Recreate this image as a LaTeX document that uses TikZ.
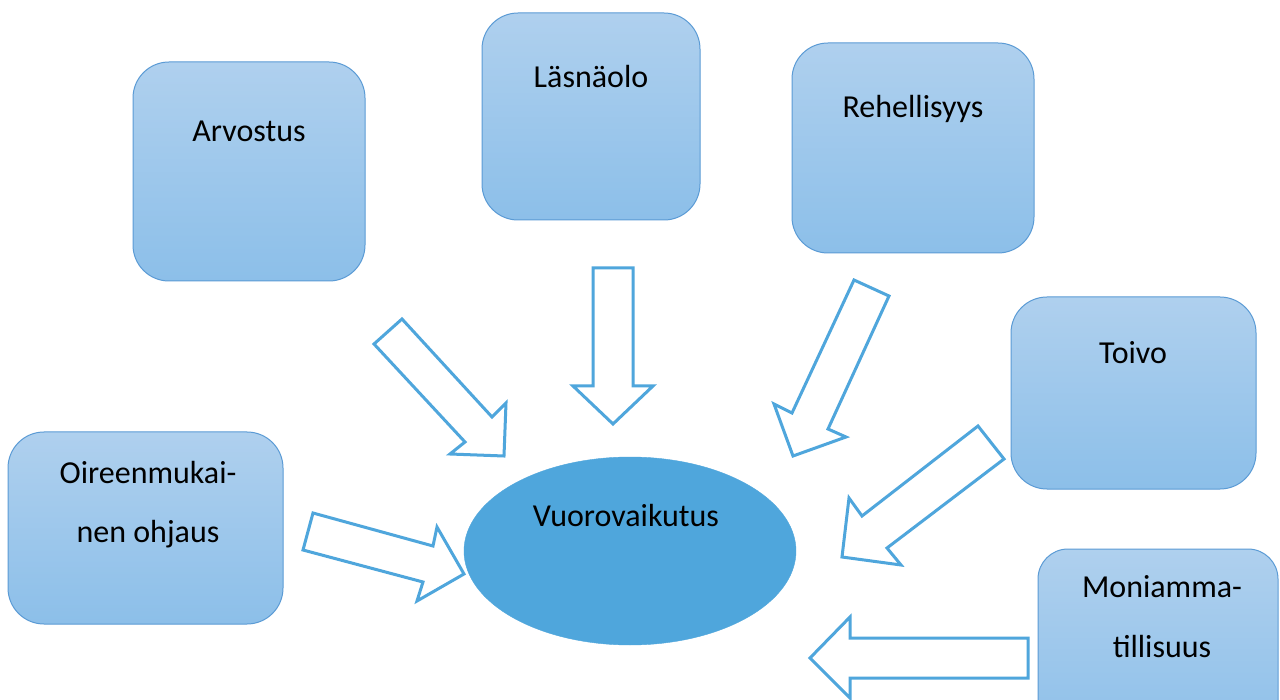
\documentclass[tikz,border=0pt]{standalone}
\usepackage{fontspec}
\setmainfont{Carlito}
\usetikzlibrary{shapes.geometric}
\definecolor{boxtop}{HTML}{AFD0EE}
\definecolor{boxbot}{HTML}{8CBFE9}
\definecolor{boxline}{HTML}{5B9BD5}
\definecolor{arrowline}{HTML}{4FA6DC}
\definecolor{hubfill}{HTML}{4FA6DC}
\tikzset{
  card/.style={draw=boxline, line width=1pt, rounded corners=36pt,
    top color=boxtop, bottom color=boxbot, inner sep=0pt},
  word/.style={anchor=base, inner sep=0pt, font=\fontsize{32}{38}\selectfont},
  blockarrow/.style={draw=arrowline, line width=3pt, fill=white, line join=miter},
  hub/.style={ellipse, fill=hubfill, draw=hubfill, inner sep=0pt}
}
\begin{document}
\begin{tikzpicture}[x=1pt, y=-1pt]
\useasboundingbox (0,0) rectangle (1280,700);
\fill[white] (0,0) rectangle (1280,700);

% rounded cards
\node[card, minimum width=232pt, minimum height=219pt] (arv) at (249,171.5) {};
\node[card, minimum width=218pt, minimum height=207pt] (las) at (591,116.5) {};
\node[card, minimum width=242pt, minimum height=210pt] (reh) at (913,148) {};
\node[card, minimum width=245pt, minimum height=192pt] (toi) at (1133.5,393) {};
\node[card, minimum width=275pt, minimum height=192pt] (oir) at (145.5,528) {};
\node[card, minimum width=240pt, minimum height=200pt, rounded corners=30pt] (mon) at (1158,649) {};

% central ellipse
\node[hub, minimum width=332pt, minimum height=188pt] (vuo) at (630,551) {};

% card labels
\node[word] (tarv) at (249,142) {Arvostus};
\node[word] (tlas) at (591,88) {Läsnäolo};
\node[word] (treh) at (913,118) {Rehellisyys};
\node[word] (ttoi) at (1133,364) {Toivo};
\node[word] (toir1) at (148,483) {Oireenmukai-};
\node[word] (toir2) at (148,542) {nen ohjaus};
\node[word] (tvuo) at (626,526) {Vuorovaikutus};
\node[word] (tmon1) at (1162,597) {Moniamma-};
\node[word] (tmon2) at (1162,657) {tillisuus};

% outlined block arrows pointing at the ellipse
\draw[blockarrow] (374,344) -- (402,319) -- (492,417) -- (506,403) -- (504,456) -- (450,454) -- (465,442) -- cycle;
\draw[blockarrow] (593,268) -- (633,268) -- (633,386) -- (653,386) -- (613,424) -- (573,386) -- (593,386) -- cycle;
\draw[blockarrow] (854,280) -- (889,296) -- (828,429) -- (846,437) -- (793,456) -- (774,404) -- (792,413) -- cycle;
\draw[blockarrow] (978,426) -- (1004,459) -- (887,548) -- (901,565) -- (842,557) -- (849,498) -- (862,516) -- cycle;
\draw[blockarrow] (313,513) -- (303,550) -- (423,582) -- (417,601) -- (464,574) -- (437,527) -- (433,546) -- cycle;
\draw[blockarrow] (1028,638) -- (1028,678) -- (850,678) -- (850,698) -- (810,658) -- (850,617) -- (850,638) -- cycle;
\end{tikzpicture}
\end{document}
